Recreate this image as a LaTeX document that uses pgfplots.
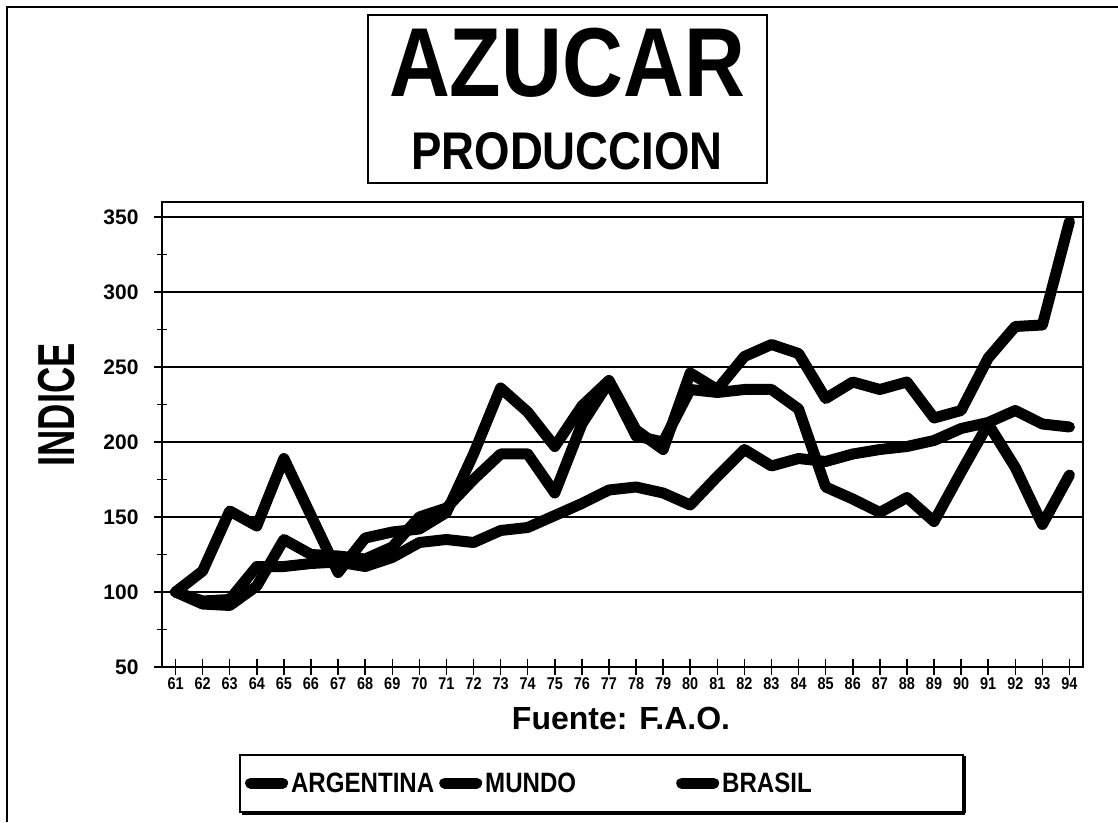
\documentclass[border=0pt]{standalone}
\usepackage{fontspec}
\setmainfont{Liberation Sans}
\newfontfamily\fT{Liberation Sans}[FakeStretch=0.86]
\newfontfamily\fY{Liberation Sans}[FakeStretch=0.70]
\newfontfamily\fX{Liberation Sans}[FakeStretch=0.85]
\usepackage{pgfplots}
\usepackage{pgfplotstable}
\pgfplotsset{compat=1.18}

\pgfplotstableread{
year arg mun bra
61 100 100 100
62 92 94 114
63 91 95 154
64 104 117 144
65 135 117 189
66 125 119 151
67 124 120 113
68 122 117 136
69 130 123 140
70 150 133 142
71 156 135 153
72 175 133 192
73 192 141 236
74 192 143 220
75 166 151 197
76 212 159 224
77 240 168 241
78 204 170 208
79 200 166 195
80 235 158 246
81 233 177 235
82 235 195 257
83 235 184 265
84 222 189 259
85 170 187 229
86 162 192 240
87 153 195 235
88 163 197 240
89 147 201 216
90 180 209 221
91 212 213 256
92 183 221 277
93 145 212 278
94 178 210 347
}\data

\begin{document}
\begin{tikzpicture}[x=1pt,y=1pt]
\useasboundingbox (0,0) rectangle (1118,822);
% outer frame
\draw[line width=2pt] (7,0) -- (7,815) -- (1118,815);
% title box
\draw[line width=1.5pt] (368,639) rectangle (767,807);
\node[anchor=base, inner sep=0pt] at (567,725) {\fT\bfseries\fontsize{98}{98}\selectfont AZUCAR};
\node[anchor=base, inner sep=0pt] at (567,652) {\fT\bfseries\fontsize{53}{53}\selectfont PRODUCCION};

\begin{axis}[
  at={(162pt,155pt)}, anchor=south west,
  width=921pt, height=465pt, scale only axis,
  xmin=60.5, xmax=94.5, ymin=50, ymax=360,
  xtick={61,...,94},
  ytick={50,100,...,350},
  minor y tick num=1,
  tick pos=left,
  tick align=center,
  major tick length=16pt,
  minor tick length=10pt,
  every tick/.style={black, line width=1.5pt},
  minor tick style={black, line width=1.5pt},
  axis line style={line width=2pt},
  ymajorgrids,
  grid style={black, line width=1.4pt},
  /pgf/number format/assume math mode=true,
  xticklabel style={font=\fX\bfseries\fontsize{17}{17}\selectfont, anchor=north, yshift=1pt},
  yticklabel style={font=\bfseries\fontsize{21}{21}\selectfont, anchor=east, xshift=-12pt},
  legend columns=3,
  legend style={at={(0.09,-0.2495)}, anchor=west, draw=none, fill=none,
    inner sep=0pt,
    nodes={inner sep=0pt, font=\fT\bfseries\fontsize{28}{28}\selectfont},
    /tikz/column 2/.style={column sep=5pt},
    /tikz/column 4/.style={column sep=100pt},
    /tikz/column 1/.style={column sep=3pt},
    /tikz/column 3/.style={column sep=3pt},
    /tikz/column 5/.style={column sep=3pt}},
  legend image code/.code={\draw[black, line width=11pt, line cap=round] (0pt,0pt) -- (32pt,0pt);},
]
\addplot[black, no markers, line width=11pt, line join=round, line cap=round] table[x=year, y=arg] {\data};
\addlegendentry{ARGENTINA}
\addplot[black, no markers, line width=11pt, line join=round, line cap=round] table[x=year, y=mun] {\data};
\addlegendentry{MUNDO}
\addplot[black, no markers, line width=11pt, line join=round, line cap=round] table[x=year, y=bra] {\data};
\addlegendentry{BRASIL}
\end{axis}

\node[rotate=90, inner sep=0pt] at (57,417) {\fY\bfseries\fontsize{52}{52}\selectfont INDICE};
\node[anchor=base, inner sep=0pt] at (621,93) {\bfseries\fontsize{32}{32}\selectfont Fuente: F.A.O.};
% legend box with shadow
\draw[line width=2pt] (240,10) rectangle (963,67);
\draw[line width=4pt] (964,9) -- (964,66);
\draw[line width=4pt] (242,9) -- (965,9);
\end{tikzpicture}
\end{document}
